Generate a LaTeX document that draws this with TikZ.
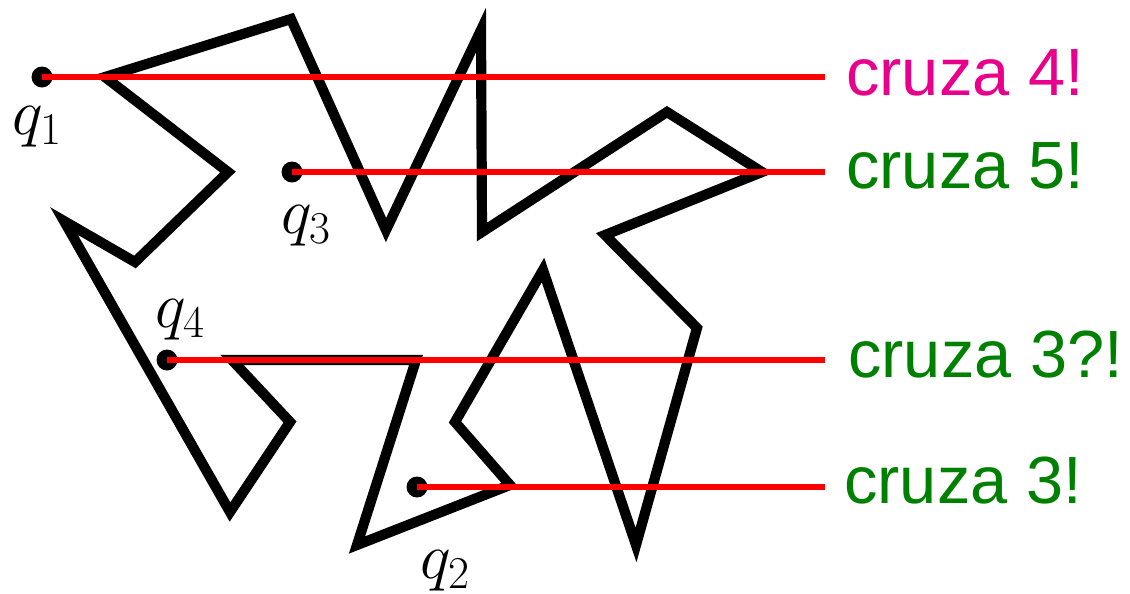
\RequirePackage{fix-cm}
\documentclass[tikz,border=0pt]{standalone}
\usepackage{fontspec}
\setsansfont{Liberation Sans}
\definecolor{mag}{RGB}{232,0,140}
\definecolor{grn}{RGB}{0,128,0}
\begin{document}
\begin{tikzpicture}[x=0.02cm,y=-0.02cm,
  poly/.style={line width=5.8pt,line join=miter,miter limit=10},
  ray/.style={red,line width=3pt},
  dot/.style={circle,fill=black,inner sep=0pt,minimum size=0.42cm},
  qlab/.style={inner sep=0pt,font=\fontsize{37}{42}\selectfont},
  txt/.style={anchor=base west,inner sep=0pt,font=\sffamily\fontsize{38}{44}\selectfont}]
\useasboundingbox (0,0) rectangle (1130,593);
\draw[poly] (105,77) -- (291,19) -- (386,230) -- (481,30) -- (482,232) -- (667,112) -- (762,172) -- (605,235) -- (697,328) -- (636,545) -- (543,270) -- (455,422) -- (510,485) -- (357,545) -- (416,360) -- (232,360) -- (290,422) -- (230,512) -- (64,221) -- (135,262) -- (228,172) -- cycle;
\node[dot] (q1) at (42,77) {};
\node[dot] (q3) at (292,172) {};
\node[dot] (q4) at (167,360) {};
\node[dot] (q2) at (417,487) {};
\coordinate (e1) at (825,77);
\coordinate (e3) at (825,172);
\coordinate (e4) at (825,360);
\coordinate (e2) at (825,487);
\draw[ray] (q1.center) -- (e1);
\draw[ray] (q3.center) -- (e3);
\draw[ray] (q4.center) -- (e4);
\draw[ray] (q2.center) -- (e2);
\node[qlab] (l1) at (37,127) {$q_1$};
\node[qlab] (l3) at (306,226) {$q_3$};
\node[qlab] (l4) at (180,320) {$q_4$};
\node[qlab] (l2) at (445,571) {$q_2$};
\node[txt,text=mag] (t1) at (846,95) {cruza 4!};
\node[txt,text=grn] (t3) at (846,188) {cruza 5!};
\node[txt,text=grn] (t4) at (848,377) {cruza 3?!};
\node[txt,text=grn] (t2) at (844,503) {cruza 3!};
\end{tikzpicture}
\end{document}
